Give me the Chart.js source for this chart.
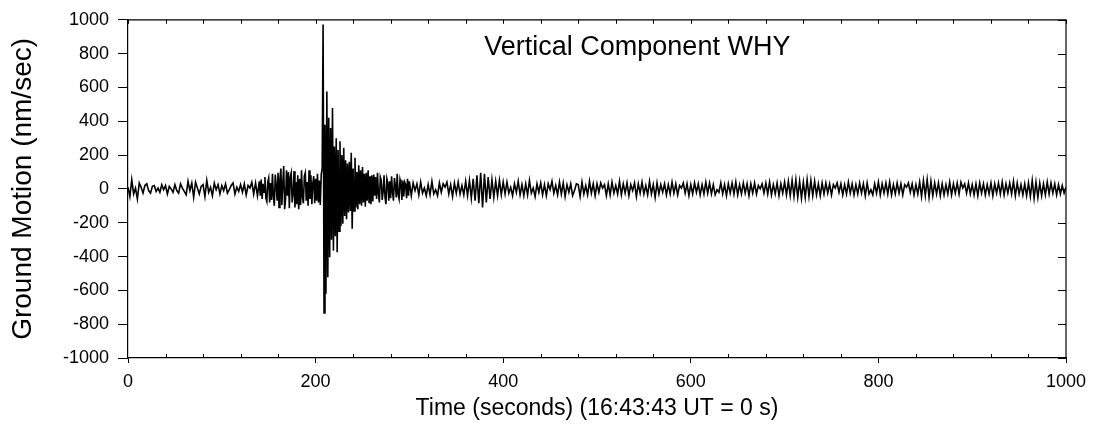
<!DOCTYPE html>
<html><head><meta charset="utf-8">
<script src="https://cdn.jsdelivr.net/npm/chart.js@4.4.1/dist/chart.umd.min.js"></script>
<style>html,body{margin:0;padding:0;background:#fff}#wrap{width:1098px;height:426px}</style>
</head><body><div id="wrap"><canvas id="c" width="1098" height="426"></canvas></div>
<script>
// Sampling segments: start time (s) and step (s)
const segStart = [0, 141, 302];
const segStep = [2, 1, 2];
// Segment A: t = 0..140 s, every 2 s (pre-event noise)
const segA = [
  10, -45, 55, -30, 5, -60, 35, 10, -25, 20,
  30, -10, -25, 15, 20, -15, 5, -20, 25, -5,
  20, -30, 15, 0, -20, 25, -10, -25, 30, 5,
  -15, -35, 45, -10, 35, -50, 40, 5, -30, 15,
  25, -45, 50, -20, 10, -40, 35, -5, 25, -30,
  20, -10, 30, -25, -5, 20, 35, -30, 10, -15,
  25, -20, 30, -35, 20, 5, 40, -30, 35, -40,
  45
];
// Segment B: t = 141..300 s, every 1 s (P arrivals, main arrival and coda)
const segB = [
  -40, 55, -60, 30, -20, 70, -55, -75, 40, 65,
  -80, 35, -65, 90, -45, -100, 85, 20, -70, 95,
  -110, 60, 120, -95, 30, 135, -120, -60, 110, -40,
  100, -115, 70, 95, -80, -30, 105, -110, 40, -90,
  80, -120, 60, -95, 110, -50, -85, 75, 95, -70,
  40, -100, 110, -60, 80, -90, 30, 75, -85, 60,
  -70, 90, -80, 50, -95, 85,
  120, 972, -733, 380, -620, 576, -522, 420, -404, 360,
  -300, 478, -365, 250, -280, 300, -375, 230, -250, 282,
  -220, 200, -206, 243, -160, 170, -180, 150, -140, 160,
  -130, 214, -235, 120, -130, 184, -110, 100, -120, 140,
  -90, 110, -100, 130, -80, 90, -105, 95, -70, 110,
  -85, 75, -90, 80,
  -75, 85, -40, 70, -60, 95, -30, -80, 70, 50,
  -65, -15, 80, -50, -90, 60, 35, -70, 45, -55,
  75, -20, -70, 65, 20, -50, 90, -35, -60, 55,
  30, -65, 50, -45, 40, 25, -55, 60, -40, 45
];
// Segment C: t = 302..1000 s, every 2 s (background noise)
const segC = [
  -40, 35, -10, 30, -35, 40, -25, 5, -40, 25,
  -35, 45, -30, -5, -40, 35, -20, 30, 10, 40,
  -30, 25, -45, 35, -25, 40, -30, 20, -35, 45,
  -40, 50, -55, 60, -70, 80, -85, 95, -110, 90,
  -80, 70, -60, 55, -50, 45, -40, 50, -35, 40,
  -30, 40, -25, 10, -40, 30, -20, 45, -35, 25,
  -40, 30, -35, 50, -25, 5, -45, 30, -20, 35,
  -35, 25, -40, 30, -5, 45, -25, 20, -35, 40,
  -30, 35, -45, 25, -20, 30, -40, -10, 30, 25,
  -45, 40, -30, 20, -35, 45, -25, 30, -40, 30,
  -20, 35, 5, 25, -40, 30, -35, 40, -25, 20,
  -30, 45, -35, 30, -25, 35, -40, 25, -10, 35,
  -45, 30, -25, 40, -30, 20, -35, 45, -30, 25,
  -50, 35, -30, 25, -20, 30, -35, 25, -30, 40,
  -25, 30, -35, 20, 5, 35, -25, 30, -40, 25,
  -30, 35, -20, 30, -35, 25, -30, 40, -25, 35,
  -30, 25, -35, -5, -20, 35, -30, 25, -40, 30,
  -25, 35, -30, 40, -35, 25, -30, 35, -25, 30,
  -40, 30, -25, 35, -30, 20, 0, 30, -25, 35,
  -30, 40, -35, 25, -30, 35, -40, 30, -25, 40,
  -35, 45, -40, 50, -45, 55, -50, 45, -55, 40,
  -50, 55, -45, 50, -40, 45, -35, 30, -40, 35,
  -30, 35, -25, 30, -35, 25, 5, 35, -20, 30,
  -35, 25, -30, 40, -25, 30, -35, 25, -30, 35,
  -25, 30, -40, 35, -30, -5, -35, 30, -25, 40,
  -35, 30, -25, 35, -30, 40, -35, 25, -30, 35,
  -25, 30, -35, 25, 10, 35, -20, 30, -35, 25,
  -30, 40, -45, 50, -40, 55, -50, 45, -40, 35,
  -30, 35, -40, 30, -35, 25, -30, 40, -35, 30,
  -25, 35, -30, 40, 5, 30, -25, 35, -30, 25,
  -35, 30, -40, 35, -25, 30, -35, 25, -30, 35,
  -40, 30, -25, 35, -30, 40, -35, 30, -25, 35,
  -30, 45, -40, 35, -30, 25, -35, 30, -40, 35,
  -45, 50, -55, 40, -50, 35, -40, 30, -35, 40,
  -30, 35, -25, 30, -35, 25, -30, 20, -25, 10
];
const xTickValues = [0, 200, 400, 600, 800, 1000];
const yTickValues = [-1000, -800, -600, -400, -200, 0, 200, 400, 600, 800, 1000];
const chartTitle = 'Vertical Component WHY';
const xTitle = 'Time (seconds) (16:43:43 UT = 0 s)';
const yTitle = 'Ground Motion (nm/sec)';

const segments = [segA, segB, segC];
const points = [];
segments.forEach((seg, k) => {
  seg.forEach((v, i) => points.push({x: segStart[k] + i * segStep[k], y: v}));
});

const FONT = "'Liberation Sans', Arial, Helvetica, sans-serif";

const framePlugin = {
  id: 'frame',
  afterDraw(chart) {
    const {ctx, chartArea: a, scales: {x, y}} = chart;
    ctx.save();
    ctx.strokeStyle = '#000';
    ctx.lineWidth = 1.2;
    ctx.beginPath();
    ctx.moveTo(a.left, a.top); ctx.lineTo(a.right, a.top); ctx.lineTo(a.right, a.bottom);
    ctx.stroke();
    ctx.lineWidth = 1;
    ctx.beginPath();
    for (let t = 0; t <= 1000; t += 40) {
      const px = Math.round(x.getPixelForValue(t)) + 0.5;
      ctx.moveTo(px, a.top); ctx.lineTo(px, a.top + 4);
      if (t % 200 !== 0) { ctx.moveTo(px, a.bottom); ctx.lineTo(px, a.bottom - 4); }
    }
    yTickValues.forEach(v => {
      const py = Math.round(y.getPixelForValue(v)) + 0.5;
      ctx.moveTo(a.right, py); ctx.lineTo(a.right - 8, py);
    });
    ctx.stroke();
    ctx.fillStyle = '#000';
    ctx.font = '27px ' + FONT;
    ctx.textAlign = 'center';
    ctx.textBaseline = 'middle';
    ctx.fillText(chartTitle, x.getPixelForValue(543), y.getPixelForValue(835));
    ctx.restore();
  }
};

new Chart(document.getElementById('c'), {
  type: 'line',
  data: {
    datasets: [{
      data: points,
      borderColor: '#000',
      borderWidth: 1.6,
      pointRadius: 0,
      tension: 0,
      fill: false
    }]
  },
  options: {
    responsive: false,
    animation: false,
    devicePixelRatio: 1,
    layout: {padding: {left: 0, right: 32, top: 18, bottom: 0}},
    plugins: {legend: {display: false}, tooltip: {enabled: false}},
    scales: {
      x: {
        type: 'linear', position: 'bottom', min: 0, max: 1000,
        afterBuildTicks: s => { s.ticks = xTickValues.map(v => ({value: v})); },
        afterFit: s => { s.height = 68; },
        ticks: {color: '#000', font: {family: FONT, size: 18}, padding: 8, maxRotation: 0, autoSkip: false,
                callback: v => String(v)},
        grid: {drawOnChartArea: false, drawTicks: true, tickLength: 5, color: '#000', lineWidth: 1},
        border: {display: true, color: '#000', width: 1.2},
        title: {display: true, text: xTitle, color: '#000', font: {family: FONT, size: 23}, padding: {top: 0, bottom: 4}}
      },
      y: {
        type: 'linear', position: 'left', min: -1000, max: 1000,
        afterBuildTicks: s => { s.ticks = yTickValues.map(v => ({value: v})); },
        afterFit: s => { s.width = 128; },
        ticks: {color: '#000', font: {family: FONT, size: 18}, padding: 9, callback: v => String(v)},
        grid: {drawOnChartArea: false, drawTicks: true, tickLength: 10, color: '#000', lineWidth: 1},
        border: {display: true, color: '#000', width: 1.2},
        title: {display: true, text: yTitle, color: '#000', font: {family: FONT, size: 28}, padding: {top: 6, bottom: 0}}
      }
    }
  },
  plugins: [framePlugin]
});
</script>
</body></html>
